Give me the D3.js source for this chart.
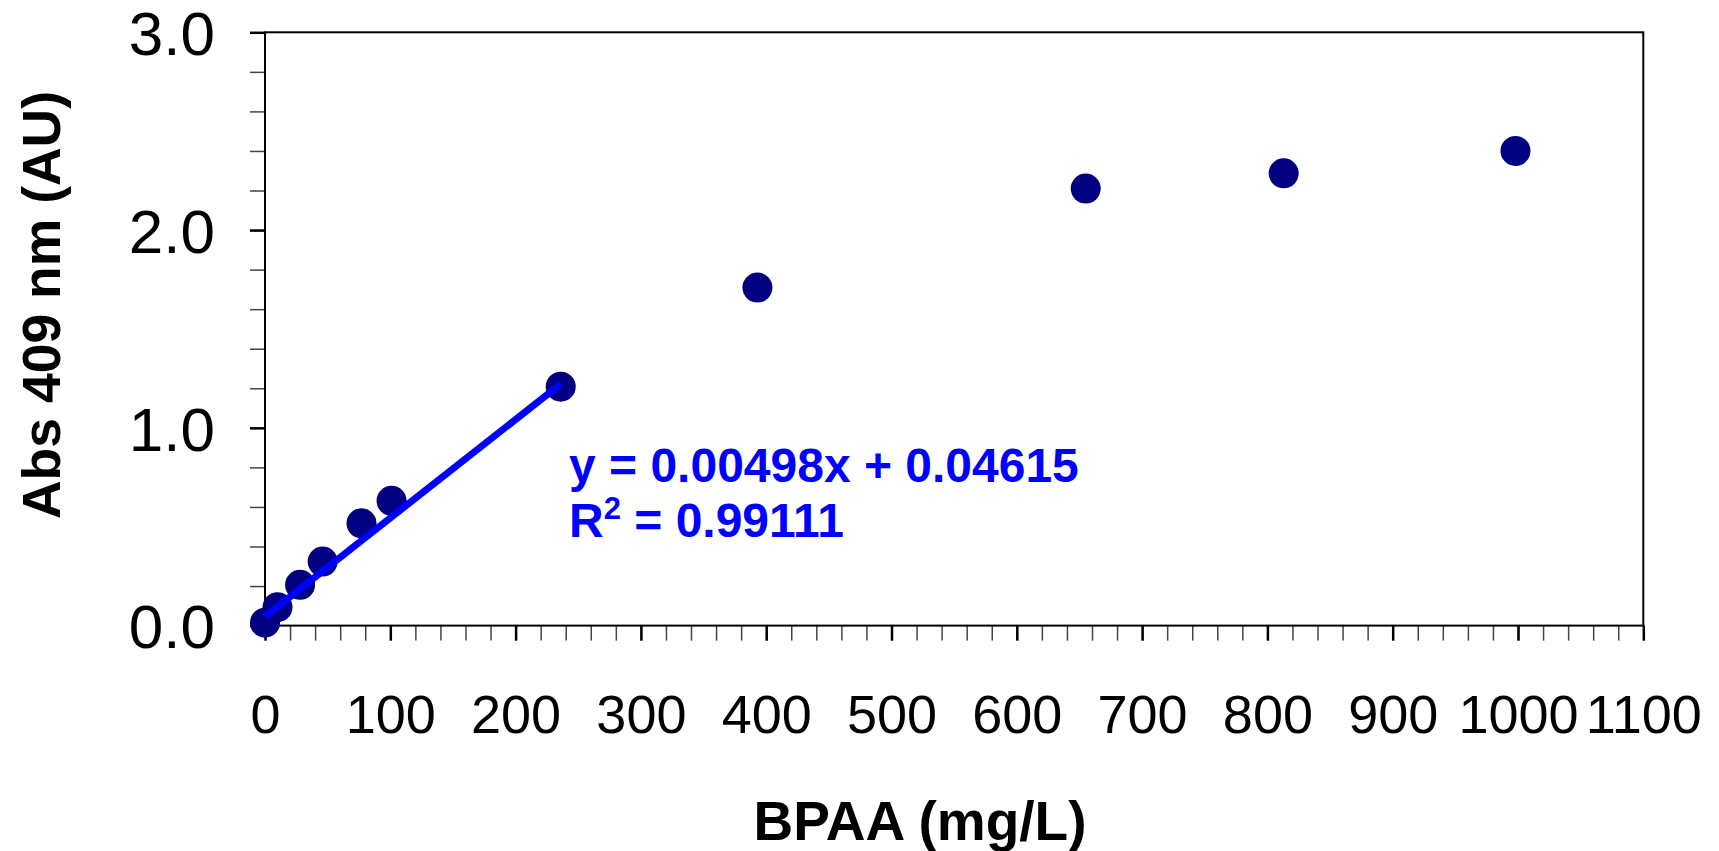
<!DOCTYPE html>
<html>
<head>
<meta charset="utf-8">
<script src="https://cdn.jsdelivr.net/npm/d3@7"></script>
<style>
  body { margin: 0; background: #fff; }
  text { font-family: "Liberation Sans", Arial, sans-serif; }
</style>
</head>
<body>
<div id="chart"></div>
<script>
// BPAA concentration (mg/L) and absorbance at 409 nm
const bpaa = [0, 10, 28, 46, 77, 101, 236, 393, 655, 813, 998];
const abs409 = [0.015, 0.093, 0.206, 0.324, 0.517, 0.631, 1.208, 1.709, 2.21, 2.287, 2.40];

// linear fit over the first 7 points
const fitSlope = 0.00498;
const fitIntercept = 0.04615;
const fitRange = [0, 236];
const fitEq = "y = 0.00498x + 0.04615";
const fitR2 = "0.99111";

const xTicks = [0, 100, 200, 300, 400, 500, 600, 700, 800, 900, 1000, 1100];
const yTicks = [0, 1, 2, 3];
const xMinor = d3.range(0, 1101, 20);
const yMinor = d3.range(0, 3.001, 0.2);

const W = 1719, H = 851;
const margin = { top: 32.3, left: 265, right: W - 1643.3, bottom: H - 625.6 };
const w = W - margin.left - margin.right,
  h = H - margin.top - margin.bottom;

const svg = d3.select("#chart")
  .append("svg")
  .attr("width", W)
  .attr("height", H);

const g = svg.append("g")
  .attr("transform", "translate(" + margin.left + "," + margin.top + ")");

const x = d3.scaleLinear().domain([0, 1100]).range([0, w]);
const y = d3.scaleLinear().domain([0, 3]).range([h, 0]);

// minor ticks
g.append("g")
  .attr("transform", "translate(0," + h + ")")
  .call(d3.axisBottom(x).tickValues(xMinor).tickSize(15).tickFormat(""))
  .call(a => a.select(".domain").remove())
  .selectAll("line").attr("stroke", "#444").attr("stroke-width", 1.5);

g.append("g")
  .call(d3.axisLeft(y).tickValues(yMinor).tickSize(15).tickFormat(""))
  .call(a => a.select(".domain").remove())
  .selectAll("line").attr("stroke", "#444").attr("stroke-width", 1.5);

// major ticks + labels
const xAxis = g.append("g")
  .attr("transform", "translate(0," + h + ")")
  .call(d3.axisBottom(x).tickValues(xTicks).tickSize(15).tickFormat(d3.format("d")));
xAxis.select(".domain").remove();
xAxis.selectAll("line").attr("stroke", "#000").attr("stroke-width", 2.5);
xAxis.selectAll("text")
  .attr("y", 107)
  .attr("dy", 0)
  .attr("fill", "#000")
  .style("font-size", "54px");

const yAxis = g.append("g")
  .call(d3.axisLeft(y).tickValues(yTicks).tickSize(15).tickFormat(d3.format(".1f")));
yAxis.select(".domain").remove();
yAxis.selectAll("line").attr("stroke", "#000").attr("stroke-width", 2.5);
yAxis.selectAll("text")
  .attr("x", -50)
  .attr("dy", "0.36em")
  .attr("fill", "#000")
  .style("font-size", "62px");

// frame
g.append("rect")
  .attr("width", w)
  .attr("height", h)
  .attr("fill", "none")
  .attr("stroke", "#000")
  .attr("stroke-width", 2);

// points
g.selectAll(".dot")
  .data(bpaa.map((d, i) => [d, abs409[i]]))
  .enter()
  .append("circle")
  .attr("class", "dot")
  .attr("cx", d => x(d[0]))
  .attr("cy", d => y(d[1]))
  .attr("r", 15)
  .attr("fill", "#000080");

// fit line
g.append("line")
  .attr("x1", x(fitRange[0]))
  .attr("y1", y(fitSlope * fitRange[0] + fitIntercept))
  .attr("x2", x(fitRange[1]))
  .attr("y2", y(fitSlope * fitRange[1] + fitIntercept))
  .attr("stroke", "#0000ff")
  .attr("stroke-width", 7);

// fit equation
const eq = svg.append("g")
  .attr("fill", "#0000ff")
  .style("font-size", "48px")
  .style("font-weight", "bold");

eq.append("text")
  .attr("x", 569)
  .attr("y", 482)
  .text(fitEq);

const r2 = eq.append("text")
  .attr("x", 569)
  .attr("y", 537);
r2.append("tspan").text("R");
r2.append("tspan").attr("dy", -18).style("font-size", "31px").text("2");
r2.append("tspan").attr("dy", 18).text(" = " + fitR2);

// axis titles
svg.append("text")
  .attr("x", 920)
  .attr("y", 840)
  .attr("text-anchor", "middle")
  .style("font-size", "55px")
  .style("font-weight", "bold")
  .text("BPAA (mg/L)");

svg.append("text")
  .attr("transform", "translate(60,305) rotate(-90)")
  .attr("text-anchor", "middle")
  .style("font-size", "53.5px")
  .style("font-weight", "bold")
  .text("Abs 409 nm (AU)");
</script>
</body>
</html>
